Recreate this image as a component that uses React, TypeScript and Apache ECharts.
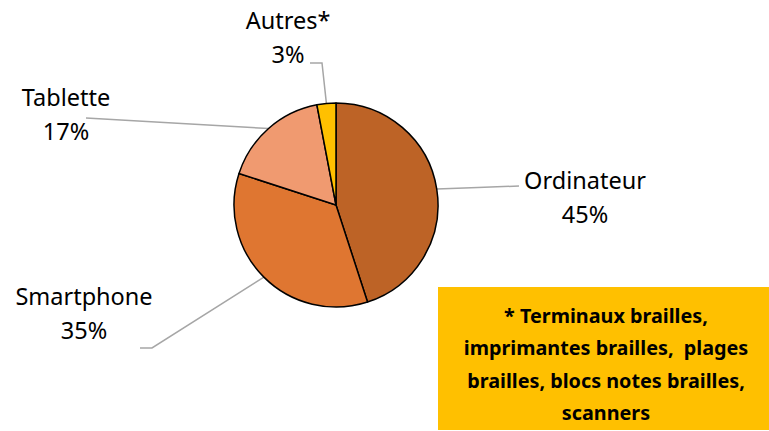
import React, { useEffect, useRef } from "react";
import * as echarts from "echarts";

const categories = ["Ordinateur", "Smartphone", "Tablette", "Autres*"];
const values = [45, 35, 17, 3];
const colors = ["#BD6326", "#DF7631", "#F09A70", "#FFC000"];
const noteLines = [
  "* Terminaux brailles,",
  "imprimantes brailles,  plages",
  "brailles, blocs notes brailles,",
  "scanners",
];

// label layout (positions are layout, not data)
const labelCenters = [
  [585, 197],
  [84, 313],
  [66, 114],
  [288, 37],
];
const lineEnds: number[][][] = [
  [[519, 186]],
  [[152, 348], [140, 348]],
  [[86, 118]],
  [[322, 63], [310, 63]],
];

const FONT = "'Noto Sans', 'Open Sans', sans-serif";

export default function App() {
  const ref = useRef<HTMLDivElement>(null);
  useEffect(() => {
    if (!ref.current) return;
    const chart = echarts.init(ref.current, null, { renderer: "svg" });
    chart.setOption({
      animation: false,
      backgroundColor: "#ffffff",
      series: [
        {
          type: "pie",
          center: [336, 205],
          radius: 102,
          startAngle: 90,
          clockwise: true,
          avoidLabelOverlap: false,
          data: categories.map((c, i) => ({
            name: c,
            value: values[i],
            itemStyle: { color: colors[i] },
          })),
          itemStyle: { borderColor: "#000000", borderWidth: 1.5 },
          label: {
            show: true,
            formatter: "{b}\n{c}%",
            fontFamily: FONT,
            fontSize: 23.5,
            lineHeight: 34,
            color: "#000000",
            align: "center",
          },
          labelLine: {
            show: true,
            smooth: false,
            lineStyle: { color: "#A6A6A6", width: 1.5 },
          },
          labelLayout: (params: any) => {
            const i = params.dataIndex;
            const start = params.labelLinePoints
              ? params.labelLinePoints[0]
              : [0, 0];
            const ends = lineEnds[i];
            const pts =
              ends.length === 1
                ? [start, [(start[0] + ends[0][0]) / 2, (start[1] + ends[0][1]) / 2], ends[0]]
                : [start, ends[0], ends[1]];
            return {
              x: labelCenters[i][0],
              y: labelCenters[i][1],
              align: "center",
              verticalAlign: "middle",
              labelLinePoints: pts,
            };
          },
        },
      ],
      graphic: [
        {
          type: "rect",
          shape: { x: 438, y: 287, width: 331, height: 143 },
          style: { fill: "#FFC000" },
          z: 10,
        },
        {
          type: "text",
          x: 606,
          y: 364,
          z: 11,
          style: {
            text: noteLines.join("\n"),
            fontFamily: FONT,
            fontWeight: "bold",
            fontSize: 19.8,
            lineHeight: 32.5,
            fill: "#000000",
            align: "center",
            verticalAlign: "middle",
          },
        },
      ],
    });
    return () => chart.dispose();
  }, []);
  return (
    <div
      ref={ref}
      style={{ position: "absolute", left: 0, top: 0, width: 769, height: 431 }}
    />
  );
}
